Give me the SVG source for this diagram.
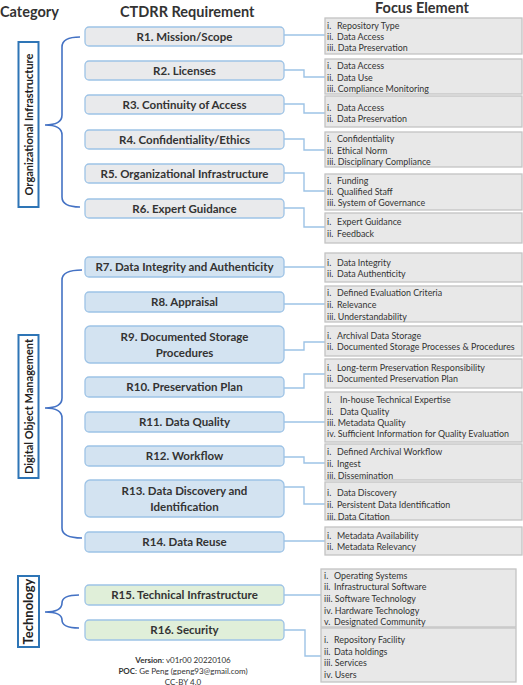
<svg xmlns="http://www.w3.org/2000/svg" width="523" height="685" viewBox="0 0 523 685">
<style>
.title{font-family:Lato,"Liberation Sans",sans-serif;font-weight:bold;font-size:14.5px;fill:#333}
.rb{stroke:#9dc3e6;stroke-width:1.3}
.g1{fill:#e9eaec}
.g2{fill:#d3e3f1}
.g3{fill:#e0efd9}
.rt{font-family:Lato,"Liberation Sans",sans-serif;font-weight:bold;font-size:11.5px;fill:#333;text-anchor:middle}
.fb{fill:#e8e8e8;stroke:#c3c3c3;stroke-width:1.3}
.ft{font-family:Lato,"Liberation Sans",sans-serif;font-size:8.9px;fill:#333}
.cb{fill:#fff;stroke:#2e75b6;stroke-width:2}
.ct{font-family:Lato,"Liberation Sans",sans-serif;font-weight:bold;font-size:11px;fill:#222;text-anchor:middle}
.brace{fill:none;stroke:#4472c4;stroke-width:1.6}
.conn{fill:none;stroke:#9dc3e6;stroke-width:1.4}
.foot{font-family:Lato,"Liberation Sans",sans-serif;font-size:8px;fill:#333;text-anchor:middle}
</style>
<rect width="523" height="685" fill="#fff"/>
<text class="title" x="0" y="17">Category</text>
<text class="title" x="120" y="17">CTDRR Requirement</text>
<text class="title" x="375" y="12.5">Focus Element</text>

<g id="connectors">
<path class="conn" d="M284,35 H325"/>
<path class="conn" d="M284,70 H304 V77 H325"/>
<path class="conn" d="M284,104 H304 V113 H325"/>
<path class="conn" d="M284,139 H304 V150 H325"/>
<path class="conn" d="M284,173 H304 V191 H325"/>
<path class="conn" d="M284,208 H304 V227 H325"/>
<path class="conn" d="M284,267 H325"/>
<path class="conn" d="M284,304 H325"/>
<path class="conn" d="M284,350 H304 V342 H325"/>
<path class="conn" d="M284,388 H304 V374 H325"/>
<path class="conn" d="M284,422 H325"/>
<path class="conn" d="M284,457 H304 V463 H325"/>
<path class="conn" d="M284,487 H304 V504 H325"/>
<path class="conn" d="M284,541 H325"/>
<path class="conn" d="M284,595 H321"/>
<path class="conn" d="M284,630 H305 V656 H321"/>
</g>

<g id="cat-org">
<rect class="cb" x="18.5" y="42" width="20" height="165"/>
<text class="ct" transform="translate(32.5,124.5) rotate(-90)">Organizational Infrastructure</text>
<path class="brace" d="M80,37 Q62,37 62,47 L62,115 Q62,125 45,125 Q62,125 62,135 L62,197 Q62,207 80,207"/>
</g>
<g id="cat-dom">
<rect class="cb" x="18.5" y="335" width="20" height="143"/>
<text class="ct" transform="translate(32.5,406.5) rotate(-90)">Digital Object Management</text>
<path class="brace" d="M82,270 Q62,270 62,280 L62,398 Q62,408 45,408 Q62,408 62,418 L62,528 Q62,538 82,538"/>
</g>
<g id="cat-tech">
<rect class="cb" x="18" y="576" width="21" height="71"/>
<text class="ct" style="font-size:13px" transform="translate(33,611.5) rotate(-90)">Technology</text>
<path class="brace" d="M79,595 Q62,595 62,603 Q62,612 45,612 Q62,612 62,620 Q62,628 79,628"/>
</g>

<g id="R1"><rect class="rb g1" x="85" y="27" width="199" height="19" rx="4"/><text class="rt" x="184.5" y="40.5">R1. Mission/Scope</text></g>
<g id="R2"><rect class="rb g1" x="85" y="61" width="199" height="19" rx="4"/><text class="rt" x="184.5" y="74.5">R2. Licenses</text></g>
<g id="R3"><rect class="rb g1" x="85" y="95" width="199" height="19" rx="4"/><text class="rt" x="184.5" y="108.5">R3. Continuity of Access</text></g>
<g id="R4"><rect class="rb g1" x="85" y="130" width="199" height="19" rx="4"/><text class="rt" x="184.5" y="143.5">R4. Confidentiality/Ethics</text></g>
<g id="R5"><rect class="rb g1" x="85" y="164" width="199" height="19" rx="4"/><text class="rt" x="184.5" y="177.5">R5. Organizational Infrastructure</text></g>
<g id="R6"><rect class="rb g1" x="85" y="199" width="199" height="19" rx="4"/><text class="rt" x="184.5" y="212.5">R6. Expert Guidance</text></g>
<g id="R7"><rect class="rb g2" x="85" y="257" width="199" height="20" rx="4"/><text class="rt" x="184.5" y="271">R7. Data Integrity and Authenticity</text></g>
<g id="R8"><rect class="rb g2" x="85" y="292" width="199" height="20" rx="4"/><text class="rt" x="184.5" y="306">R8. Appraisal</text></g>
<g id="R9"><rect class="rb g2" x="85" y="326" width="199" height="37" rx="5"/><text class="rt" x="184.5" y="341">R9. Documented Storage</text><text class="rt" x="184.5" y="357">Procedures</text></g>
<g id="R10"><rect class="rb g2" x="85" y="377" width="199" height="20" rx="4"/><text class="rt" x="184.5" y="391">R10. Preservation Plan</text></g>
<g id="R11"><rect class="rb g2" x="85" y="412" width="199" height="20" rx="4"/><text class="rt" x="184.5" y="426">R11. Data Quality</text></g>
<g id="R12"><rect class="rb g2" x="85" y="446" width="199" height="20" rx="4"/><text class="rt" x="184.5" y="460">R12. Workflow</text></g>
<g id="R13"><rect class="rb g2" x="85" y="480" width="199" height="37" rx="5"/><text class="rt" x="184.5" y="495">R13. Data Discovery and</text><text class="rt" x="184.5" y="511">Identification</text></g>
<g id="R14"><rect class="rb g2" x="85" y="532" width="199" height="20" rx="4"/><text class="rt" x="184.5" y="546">R14. Data Reuse</text></g>
<g id="R15"><rect class="rb g3" x="85" y="585" width="199" height="20" rx="4"/><text class="rt" x="184.5" y="599">R15. Technical Infrastructure</text></g>
<g id="R16"><rect class="rb g3" x="85" y="620" width="199" height="20" rx="4"/><text class="rt" x="184.5" y="634">R16. Security</text></g>

<g id="F1"><rect class="fb" x="325" y="18" width="197" height="36"/>
<text class="ft" y="29"><tspan x="327">i.</tspan><tspan x="337">Repository Type</tspan></text>
<text class="ft" y="40"><tspan x="327">ii.</tspan><tspan x="337">Data Access</tspan></text>
<text class="ft" x="327" y="51">iii. Data Preservation</text></g>
<g id="F2"><rect class="fb" x="325" y="59" width="197" height="35"/>
<text class="ft" y="69"><tspan x="327">i.</tspan><tspan x="337">Data Access</tspan></text>
<text class="ft" y="81"><tspan x="327">ii.</tspan><tspan x="337">Data Use</tspan></text>
<text class="ft" x="327" y="92">iii. Compliance Monitoring</text></g>
<g id="F3"><rect class="fb" x="325" y="96" width="197" height="31"/>
<text class="ft" y="111"><tspan x="327">i.</tspan><tspan x="337">Data Access</tspan></text>
<text class="ft" y="122"><tspan x="327">ii.</tspan><tspan x="337">Data Preservation</tspan></text></g>
<g id="F4"><rect class="fb" x="325" y="132" width="197" height="35"/>
<text class="ft" y="142"><tspan x="327">i.</tspan><tspan x="337">Confidentiality</tspan></text>
<text class="ft" y="154"><tspan x="327">ii.</tspan><tspan x="337">Ethical Norm</tspan></text>
<text class="ft" x="327" y="165">iii. Disciplinary Compliance</text></g>
<g id="F5"><rect class="fb" x="325" y="174" width="197" height="36"/>
<text class="ft" y="184"><tspan x="327">i.</tspan><tspan x="337">Funding</tspan></text>
<text class="ft" y="195"><tspan x="327">ii.</tspan><tspan x="337">Qualified Staff</tspan></text>
<text class="ft" x="327" y="206">iii. System of Governance</text></g>
<g id="F6"><rect class="fb" x="325" y="213" width="197" height="30"/>
<text class="ft" y="225"><tspan x="327">i.</tspan><tspan x="337">Expert Guidance</tspan></text>
<text class="ft" y="237"><tspan x="327">ii.</tspan><tspan x="337">Feedback</tspan></text></g>

<g id="F7"><rect class="fb" x="325" y="253" width="197" height="29"/>
<text class="ft" y="266"><tspan x="327">i.</tspan><tspan x="337">Data Integrity</tspan></text>
<text class="ft" y="277"><tspan x="327">ii.</tspan><tspan x="337">Data Authenticity</tspan></text></g>
<g id="F8"><rect class="fb" x="325" y="286" width="197" height="36"/>
<text class="ft" y="296"><tspan x="327">i.</tspan><tspan x="337">Defined Evaluation Criteria</tspan></text>
<text class="ft" y="308"><tspan x="327">ii.</tspan><tspan x="337">Relevance</tspan></text>
<text class="ft" x="327" y="320">iii. Understandability</text></g>
<g id="F9"><rect class="fb" x="325" y="326" width="197" height="30"/>
<text class="ft" y="339"><tspan x="327">i.</tspan><tspan x="337">Archival Data Storage</tspan></text>
<text class="ft" y="350"><tspan x="327">ii.</tspan><tspan x="337">Documented Storage Processes &amp; Procedures</tspan></text></g>
<g id="F10"><rect class="fb" x="325" y="359" width="197" height="29"/>
<text class="ft" y="371"><tspan x="327">i.</tspan><tspan x="337">Long-term Preservation Responsibility</tspan></text>
<text class="ft" y="382"><tspan x="327">ii.</tspan><tspan x="337">Documented Preservation Plan</tspan></text></g>
<g id="F11"><rect class="fb" x="325" y="392" width="197" height="50"/>
<text class="ft" y="403"><tspan x="327">i.</tspan><tspan x="340">In-house Technical Expertise</tspan></text>
<text class="ft" y="415"><tspan x="327">ii.</tspan><tspan x="340">Data Quality</tspan></text>
<text class="ft" x="327" y="426">iii. Metadata Quality</text>
<text class="ft" x="327" y="437">iv. Sufficient Information for Quality Evaluation</text></g>
<g id="F12"><rect class="fb" x="325" y="444" width="197" height="36"/>
<text class="ft" y="455"><tspan x="327">i.</tspan><tspan x="337">Defined Archival Workflow</tspan></text>
<text class="ft" y="467"><tspan x="327">ii.</tspan><tspan x="337">Ingest</tspan></text>
<text class="ft" x="327" y="479">iii. Dissemination</text></g>
<g id="F13"><rect class="fb" x="325" y="482" width="197" height="38"/>
<text class="ft" y="496"><tspan x="327">i.</tspan><tspan x="337">Data Discovery</tspan></text>
<text class="ft" y="508"><tspan x="327">ii.</tspan><tspan x="337">Persistent Data Identification</tspan></text>
<text class="ft" x="327" y="520">iii.  Data Citation</text></g>
<g id="F14"><rect class="fb" x="325" y="527" width="197" height="28"/>
<text class="ft" y="539"><tspan x="327">i.</tspan><tspan x="337">Metadata Availability</tspan></text>
<text class="ft" y="550"><tspan x="327">ii.</tspan><tspan x="337">Metadata Relevancy</tspan></text></g>

<g id="F15"><rect class="fb" x="321" y="569" width="195" height="58"/>
<text class="ft" y="579"><tspan x="324">i.</tspan><tspan x="334">Operating Systems</tspan></text>
<text class="ft" y="590"><tspan x="324">ii.</tspan><tspan x="334">Infrastructural Software</tspan></text>
<text class="ft" x="324" y="602">iii. Software Technology</text>
<text class="ft" x="324" y="614">iv. Hardware Technology</text>
<text class="ft" y="625"><tspan x="324">v.</tspan><tspan x="334">Designated Community</tspan></text></g>
<g id="F16"><rect class="fb" x="321" y="628" width="195" height="54"/>
<text class="ft" y="643"><tspan x="324">i.</tspan><tspan x="334">Repository Facility</tspan></text>
<text class="ft" y="655"><tspan x="324">ii.</tspan><tspan x="334">Data holdings</tspan></text>
<text class="ft" x="324" y="666">iii. Services</text>
<text class="ft" x="324" y="678">iv. Users</text></g>

<g id="footer">
<text class="foot" x="183" y="663"><tspan font-weight="bold">Version</tspan>: v01r00 20220106</text>
<text class="foot" x="183" y="674"><tspan font-weight="bold">POC</tspan>: Ge Peng (gpeng93@gmail.com)</text>
<text class="foot" x="183" y="684.5">CC-BY 4.0</text>
</g>
</svg>
